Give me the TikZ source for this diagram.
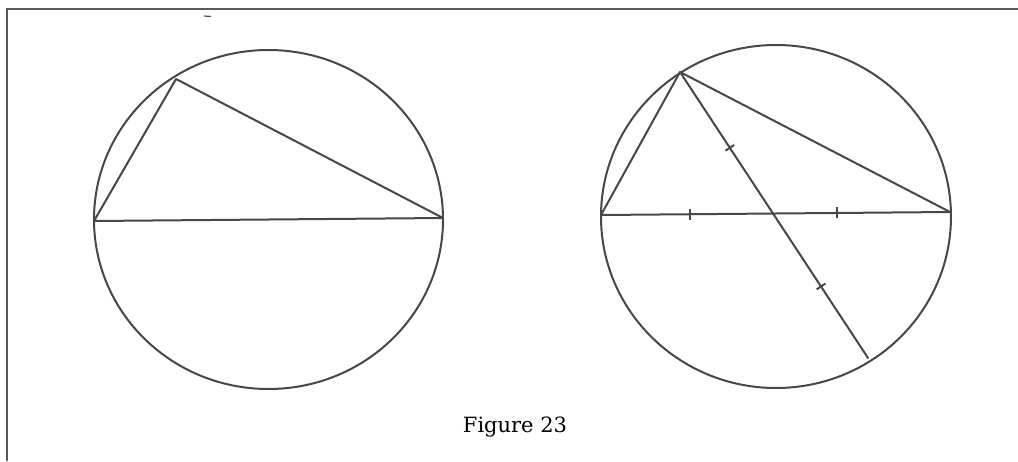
\documentclass[tikz,border=0pt]{standalone}
\usepackage{fontspec}
\newfontfamily\capfont{DejaVu Serif}
\begin{document}
\begin{tikzpicture}[x=1pt,y=-1pt,
  ln/.style={draw=black!72,line width=2pt,line cap=round,line join=round},
  frame/.style={draw=black!65,line width=2.4pt},
  tick/.style={draw=black!72,line width=2pt}]
\useasboundingbox (0,0) rectangle (1018,461);
% frame
\coordinate (f1) at (7,461);
\coordinate (f2) at (7,9);
\coordinate (f3) at (1018,9);
\draw[frame] (f1) -- (f2) -- (f3);
\coordinate (m1) at (204,16);
\coordinate (m2) at (211,16.5);
\draw[draw=black!70,line width=1.2pt] (m1) -- (m2);
% left figure
\coordinate (O1) at (268.5,219.5);
\draw[ln] (O1) ellipse [x radius=174.5, y radius=169.5];
\coordinate (A1) at (176,79);
\coordinate (B1) at (94,221);
\coordinate (C1) at (443,218);
\draw[ln] (A1) -- (B1) -- (C1) -- cycle;
% right figure
\coordinate (O2) at (776,216.5);
\draw[ln] (O2) ellipse [x radius=175, y radius=171.5];
\coordinate (A2) at (680,72);
\coordinate (B2) at (601,215);
\coordinate (C2) at (950,212);
\coordinate (D2) at (868,358);
\draw[ln] (A2) -- (B2) -- (C2) -- cycle;
\draw[ln] (A2) -- (D2);
% ticks on BC
\foreach \t in {0.255,0.675}{
  \path (B2) -- (C2) coordinate[pos=\t] (tb);
  \draw[tick] ([yshift=-5.5pt]tb) -- ([yshift=5.5pt]tb);
}
% ticks on median
\foreach \t in {0.265,0.75}{
  \path (A2) -- (D2) node[pos=\t,sloped,inner sep=0pt,minimum width=0pt,minimum height=10pt,draw=none] (tm) {};
  \draw[tick] (tm.north) -- (tm.south);
}
\node[font=\capfont\fontsize{21}{25}\selectfont] (cap) at (515,427) {Figure 23};
\end{tikzpicture}
\end{document}
